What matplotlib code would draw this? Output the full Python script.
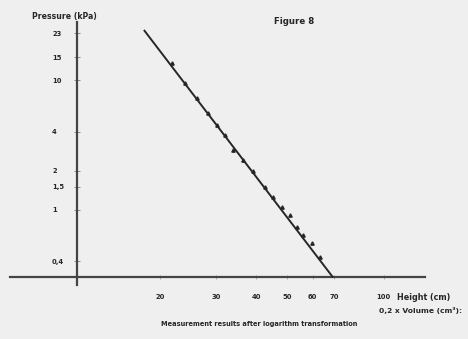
import matplotlib
matplotlib.use("Agg")
import matplotlib.pyplot as plt
from matplotlib.ticker import NullLocator

# Data (log-log axes)
height = [21.8, 23.9, 26.1, 28.3, 30.1, 31.9, 33.8, 36.3, 39.0, 42.6, 45.1,
          48.1, 50.9, 53.6, 55.9, 59.7, 63.2]
pressure = [13.5, 9.5, 7.27, 5.57, 4.50, 3.77, 2.89, 2.42, 1.99, 1.50, 1.26,
            1.05, 0.91, 0.74, 0.64, 0.55, 0.43]
fit_x = [17.8, 69.5]
fit_y = [24.3, 0.30]

yticks = [23, 15, 10, 4, 2, 1.5, 1, 0.4]
ytick_labels = ["23", "15", "10", "4", "2", "1,5", "1", "0,4"]
xticks = [20, 30, 40, 50, 60, 70, 100]
xtick_labels = ["20", "30", "40", "50", "60", "70", "100"]

bg = "#efefef"
ink = "#262626"
W, H = 468, 339
fig = plt.figure(figsize=(W / 100, H / 100), dpi=100, facecolor=bg)
ax = fig.add_axes([10 / W, 1 - 285 / H, (425 - 10) / W, (285 - 22) / H])
ax.set_facecolor(bg)
ax.set_xscale("log")
ax.set_yscale("log")
ax.set_xlim(6.79, 134.6)
ax.set_ylim(0.263, 28.0)

ax.plot(fit_x, fit_y, color=ink, lw=1.4, solid_capstyle="butt", zorder=3)
ax.plot(height, pressure, linestyle="none", marker="^", ms=2.4,
        color=ink, zorder=4)

for s in ["top", "right"]:
    ax.spines[s].set_visible(False)
ax.spines["left"].set_position(("data", 11.0))
ax.spines["bottom"].set_position(("data", 0.303))
for s in ["left", "bottom"]:
    ax.spines[s].set_color("#444444")
    ax.spines[s].set_linewidth(1.6)

fs = 4.9
ax.set_yticks(yticks)
ax.set_yticklabels(ytick_labels, fontsize=fs, fontweight="bold", color=ink,
                   ha="left")
ax.set_xticks(xticks)
ax.set_xticklabels(xtick_labels, fontsize=fs, fontweight="bold", color=ink)
ax.yaxis.set_minor_locator(NullLocator())
ax.xaxis.set_minor_locator(NullLocator())
ax.tick_params(axis="y", direction="inout", length=4, width=0.7,
               colors="#888888", labelcolor=ink, pad=16)
ax.tick_params(axis="x", direction="inout", length=3, width=0.7,
               colors="#aaaaaa", labelcolor=ink, pad=11)

fig.text(397 / W, 1 - 297 / H, "Height (cm)", fontsize=5.8, fontweight="bold",
         color=ink, ha="left", va="center")
fig.text(379 / W, 1 - 310 / H, "0,2 x Volume (cm³):", fontsize=5.4,
         fontweight="bold", color=ink, ha="left", va="center")
fig.text(32 / W, 1 - 16 / H, "Pressure (kPa)", fontsize=5.6,
         fontweight="bold", color=ink, ha="left", va="center")
fig.text(294 / W, 1 - 22 / H, "Figure 8", fontsize=6.2, fontweight="bold",
         color=ink, ha="center", va="center")
fig.text(259 / W, 1 - 324 / H,
         "Measurement results after logarithm transformation", fontsize=4.8,
         fontweight="bold", color=ink, ha="center", va="center")

fig.savefig("out.png", dpi=100, facecolor=bg)
